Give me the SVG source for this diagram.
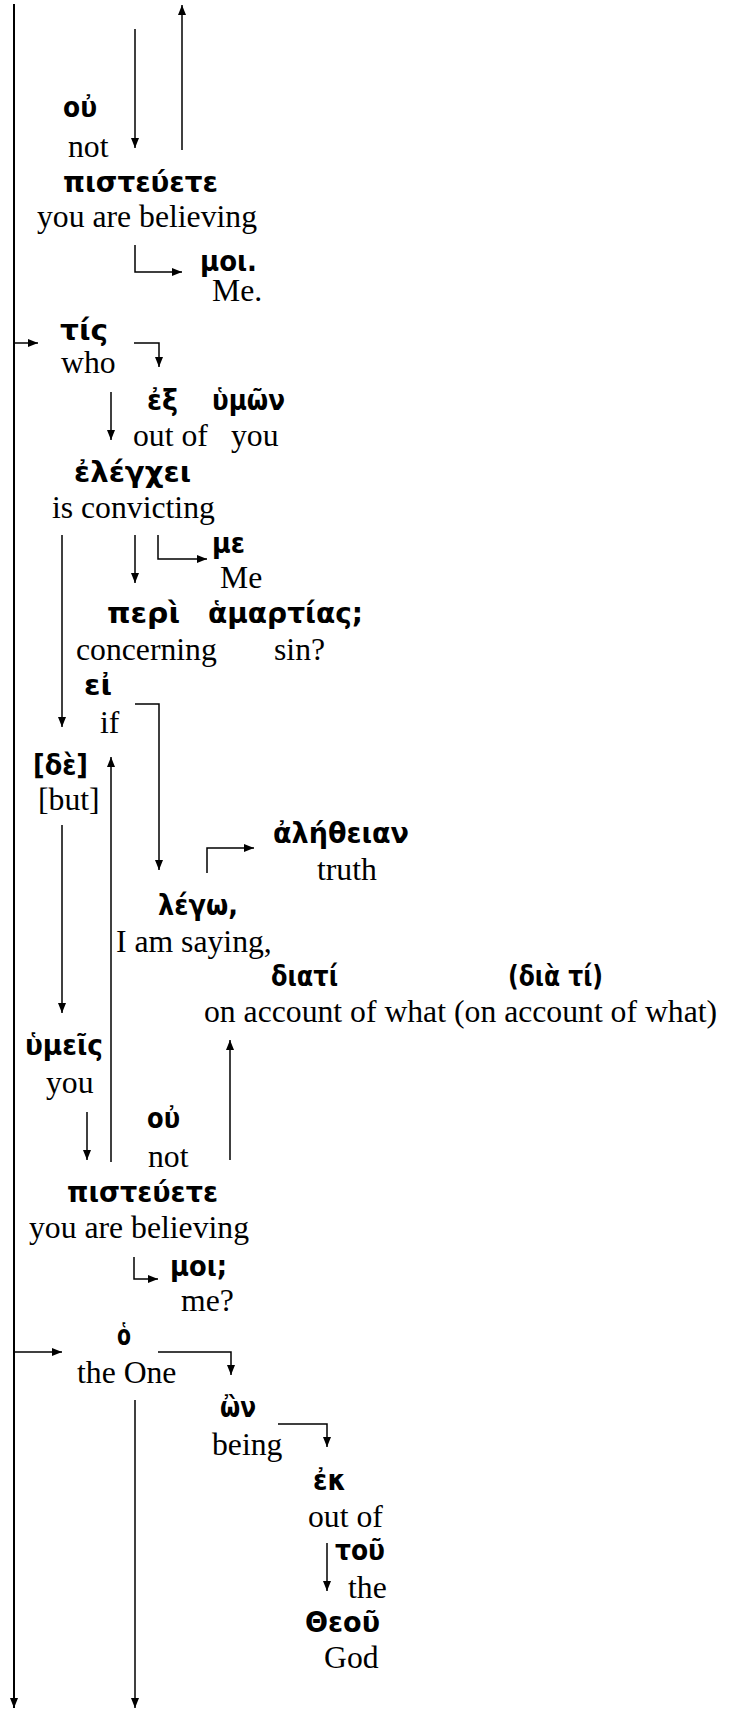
<svg xmlns="http://www.w3.org/2000/svg" width="730" height="1709" viewBox="0 0 730 1709">
<style>
.g{font-family:"DejaVu Sans","Noto Sans",sans-serif;font-weight:bold;font-size:29px;fill:#000}
.e{font-family:"Liberation Serif","Times New Roman",serif;font-size:31.7px;fill:#000}
.c{fill:none;stroke:#000;stroke-width:1.5}
.m{stroke-width:2}
</style>
<defs>
<marker id="ah" markerUnits="userSpaceOnUse" markerWidth="10" markerHeight="8" refX="10" refY="4" orient="auto">
<path d="M0,0 L10,4 L0,8 z" fill="#000"/>
</marker>
</defs>
<rect width="730" height="1709" fill="#fff"/>
<g id="connectors">
<path class="c m" d="M14,4 V1708" marker-end="url(#ah)"/>
<path class="c" d="M135,29 V148" marker-end="url(#ah)"/>
<path class="c" d="M182,150 V5" marker-end="url(#ah)"/>
<path class="c" d="M135,245 V272 H182" marker-end="url(#ah)"/>
<path class="c" d="M14,343 H38" marker-end="url(#ah)"/>
<path class="c" d="M134,343 H159 V367" marker-end="url(#ah)"/>
<path class="c" d="M111,392 V440" marker-end="url(#ah)"/>
<path class="c" d="M62,535 V727" marker-end="url(#ah)"/>
<path class="c" d="M135,535 V583" marker-end="url(#ah)"/>
<path class="c" d="M158,535 V559 H207" marker-end="url(#ah)"/>
<path class="c" d="M135,704 H159 V870" marker-end="url(#ah)"/>
<path class="c" d="M111,1162 V757" marker-end="url(#ah)"/>
<path class="c" d="M207,873 V848 H254" marker-end="url(#ah)"/>
<path class="c" d="M62,825 V1013" marker-end="url(#ah)"/>
<path class="c" d="M87,1112 V1160" marker-end="url(#ah)"/>
<path class="c" d="M230,1160 V1040" marker-end="url(#ah)"/>
<path class="c" d="M134,1257 V1279 H158" marker-end="url(#ah)"/>
<path class="c" d="M14,1352 H62" marker-end="url(#ah)"/>
<path class="c" d="M158,1352 H231 V1375" marker-end="url(#ah)"/>
<path class="c" d="M135,1400 V1708" marker-end="url(#ah)"/>
<path class="c" d="M278,1424 H327 V1447" marker-end="url(#ah)"/>
<path class="c" d="M327,1543 V1591" marker-end="url(#ah)"/>
</g>
<g id="n-ou1"><text class="g" x="63" y="117" textLength="34" lengthAdjust="spacingAndGlyphs">οὐ</text><text class="e" x="68" y="157">not</text></g>
<g id="n-pisteuete1"><text class="g" x="63" y="192" textLength="155" lengthAdjust="spacingAndGlyphs">πιστεύετε</text><text class="e" x="37" y="227">you are believing</text></g>
<g id="n-moi1"><text class="g" x="200" y="271" textLength="57" lengthAdjust="spacingAndGlyphs">μοι.</text><text class="e" x="212" y="301">Me.</text></g>
<g id="n-tis"><text class="g" x="60" y="340" textLength="48" lengthAdjust="spacingAndGlyphs">τίς</text><text class="e" x="61" y="373">who</text></g>
<g id="n-ex"><text class="g" x="147" y="410" textLength="31" lengthAdjust="spacingAndGlyphs">ἐξ</text><text class="e" x="133" y="446">out of</text></g>
<g id="n-hymon"><text class="g" x="212" y="410" textLength="73" lengthAdjust="spacingAndGlyphs">ὑμῶν</text><text class="e" x="231" y="446">you</text></g>
<g id="n-elenchei"><text class="g" x="74" y="482" textLength="117" lengthAdjust="spacingAndGlyphs">ἐλέγχει</text><text class="e" x="52" y="518">is convicting</text></g>
<g id="n-me"><text class="g" x="212" y="553" textLength="33" lengthAdjust="spacingAndGlyphs">με</text><text class="e" x="220" y="588">Me</text></g>
<g id="n-peri"><text class="g" x="107" y="623" textLength="73" lengthAdjust="spacingAndGlyphs">περὶ</text><text class="e" x="76" y="660">concerning</text></g>
<g id="n-hamartias"><text class="g" x="208" y="623" textLength="155" lengthAdjust="spacingAndGlyphs">ἁμαρτίας;</text><text class="e" x="274" y="660">sin?</text></g>
<g id="n-ei"><text class="g" x="84" y="695" textLength="28" lengthAdjust="spacingAndGlyphs">εἰ</text><text class="e" x="100" y="733">if</text></g>
<g id="n-de"><text class="g" x="33" y="775" textLength="55" lengthAdjust="spacingAndGlyphs">[δὲ]</text><text class="e" x="38" y="810">[but]</text></g>
<g id="n-aletheian"><text class="g" x="273" y="843" textLength="136" lengthAdjust="spacingAndGlyphs">ἀλήθειαν</text><text class="e" x="317" y="880">truth</text></g>
<g id="n-lego"><text class="g" x="158" y="915" textLength="80" lengthAdjust="spacingAndGlyphs">λέγω,</text><text class="e" x="116" y="952">I am saying,</text></g>
<g id="n-diati"><text class="g" x="271" y="986" textLength="67" lengthAdjust="spacingAndGlyphs">διατί</text><text class="e" x="204" y="1022">on account of what</text></g>
<g id="n-dia-ti"><text class="g" x="508" y="986" textLength="95" lengthAdjust="spacingAndGlyphs">(διὰ τί)</text><text class="e" x="454" y="1022">(on account of what)</text></g>
<g id="n-hymeis"><text class="g" x="25" y="1055" textLength="78" lengthAdjust="spacingAndGlyphs">ὑμεῖς</text><text class="e" x="46" y="1093">you</text></g>
<g id="n-ou2"><text class="g" x="147" y="1128" textLength="33" lengthAdjust="spacingAndGlyphs">οὐ</text><text class="e" x="148" y="1167">not</text></g>
<g id="n-pisteuete2"><text class="g" x="67" y="1202" textLength="151" lengthAdjust="spacingAndGlyphs">πιστεύετε</text><text class="e" x="29" y="1238">you are believing</text></g>
<g id="n-moi2"><text class="g" x="170" y="1276" textLength="57" lengthAdjust="spacingAndGlyphs">μοι;</text><text class="e" x="181" y="1311">me?</text></g>
<g id="n-ho"><text class="g" x="117" y="1345" textLength="14" lengthAdjust="spacingAndGlyphs">ὁ</text><text class="e" x="77" y="1383">the One</text></g>
<g id="n-on"><text class="g" x="220" y="1417" textLength="36" lengthAdjust="spacingAndGlyphs">ὢν</text><text class="e" x="212" y="1455">being</text></g>
<g id="n-ek"><text class="g" x="313" y="1490" textLength="33" lengthAdjust="spacingAndGlyphs">ἐκ</text><text class="e" x="308" y="1527">out of</text></g>
<g id="n-tou"><text class="g" x="335" y="1560" textLength="50" lengthAdjust="spacingAndGlyphs">τοῦ</text><text class="e" x="348" y="1598">the</text></g>
<g id="n-theou"><text class="g" x="305" y="1632" textLength="75" lengthAdjust="spacingAndGlyphs">Θεοῦ</text><text class="e" x="324" y="1668">God</text></g>
</svg>
